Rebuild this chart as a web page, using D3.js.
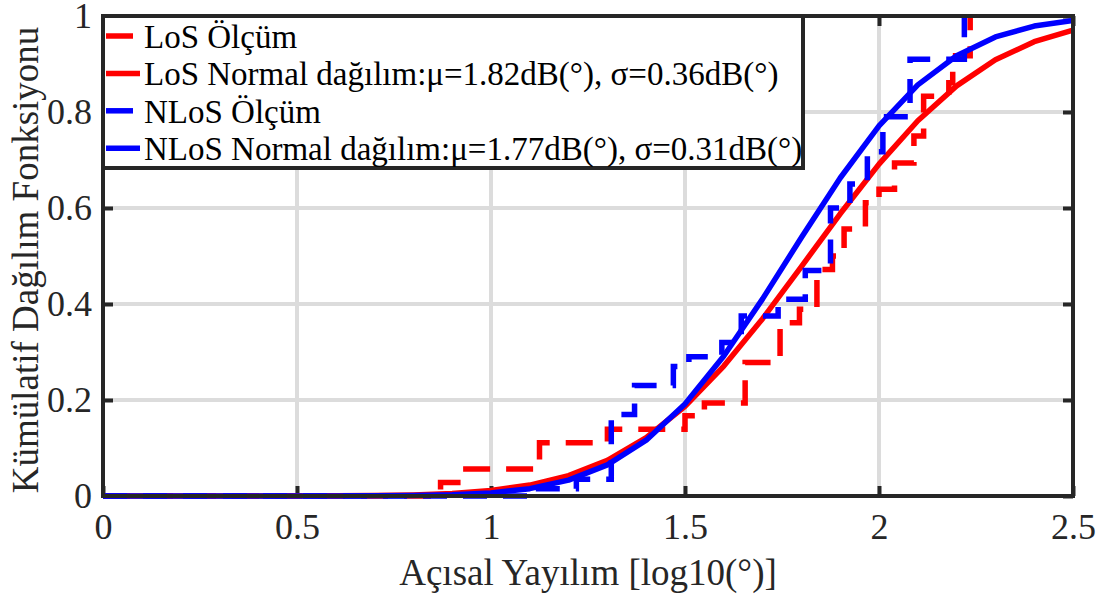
<!DOCTYPE html>
<html><head><meta charset="utf-8">
<script src="https://cdn.jsdelivr.net/npm/d3@7/dist/d3.min.js"></script>
<style>html,body{margin:0;padding:0;background:#fff;}svg{display:block;}
text{font-family:"Liberation Serif","Times New Roman",Times,"DejaVu Serif","Noto Serif",serif;}</style>
</head><body>
<svg id="chart" width="1106" height="599"></svg>
<script>
// ---- data ----
const xTicks = [0, 0.5, 1, 1.5, 2, 2.5];
const yTicks = [0, 0.2, 0.4, 0.6, 0.8, 1];
const xTickLabels = ["0", "0.5", "1", "1.5", "2", "2.5"];
const yTickLabels = ["0", "0.2", "0.4", "0.6", "0.8", "1"];

// fitted normal CDF curves
const fitX = [0, 0.25, 0.5, 0.6, 0.7, 0.8, 0.9, 1.0, 1.1, 1.2, 1.3, 1.4, 1.5, 1.6, 1.7, 1.8, 1.9, 2.0, 2.1, 2.2, 2.3, 2.4, 2.5];
const losFit = [0, 0, 0.0001, 0.0004, 0.0009, 0.0023, 0.0053, 0.0114, 0.0228, 0.0425, 0.0743, 0.1217, 0.187, 0.2706, 0.3694, 0.478, 0.588, 0.6915, 0.7817, 0.8544, 0.9088, 0.9464, 0.9706];
const nlosFit = [0, 0, 0, 0.0001, 0.0003, 0.0009, 0.0025, 0.0065, 0.0153, 0.033, 0.0648, 0.1163, 0.1919, 0.2918, 0.4107, 0.5385, 0.6625, 0.771, 0.8565, 0.9173, 0.9564, 0.979, 0.9907];

// measured empirical CDF steps (x where step occurs, level after step)
const losMeasX = [0, 0.87, 0.925, 1.125, 1.30, 1.50, 1.55, 1.655, 1.745, 1.795, 1.84, 1.88, 1.91, 1.965, 2.0, 2.04, 2.09, 2.115, 2.18, 2.19, 2.235];
const losMeasY = [0, 0.028, 0.056, 0.111, 0.139, 0.167, 0.194, 0.278, 0.361, 0.389, 0.472, 0.5, 0.556, 0.611, 0.639, 0.694, 0.75, 0.833, 0.861, 0.917, 1.0];
const nlosMeasX = [0, 1.10, 1.22, 1.31, 1.37, 1.47, 1.51, 1.595, 1.645, 1.74, 1.81, 1.875, 1.925, 1.97, 2.01, 2.08, 2.22];
const nlosMeasY = [0, 0.015, 0.035, 0.17, 0.23, 0.27, 0.29, 0.32, 0.375, 0.41, 0.47, 0.6, 0.65, 0.717, 0.79, 0.91, 1.0];

const legendLabels = ["LoS Ölçüm", "LoS Normal dağılım:μ=1.82dB(°), σ=0.36dB(°)", "NLoS Ölçüm", "NLoS Normal dağılım:μ=1.77dB(°), σ=0.31dB(°)"];
const xLabel = "Açısal Yayılım [log10(°)]";
const yLabel = "Kümülatif Dağılım Fonksiyonu";

// ---- layout ----
const L = 103, R = 1073, T = 16, B = 496;
const DARK = "#262626", GRID = "#dcdcdc";
const RED = "#ff0000", BLUE = "#0000ff";

const svg = d3.select("#chart");
const x = d3.scaleLinear().domain([0, 2.5]).range([L, R]);
const y = d3.scaleLinear().domain([0, 1]).range([B, T]);

// grid
const g = svg.append("g");
g.selectAll("line.gx").data(xTicks.slice(1, -1)).join("line")
  .attr("x1", d => x(d)).attr("x2", d => x(d)).attr("y1", T).attr("y2", B)
  .attr("stroke", GRID).attr("stroke-width", 4);
g.selectAll("line.gy").data(yTicks.slice(1, -1)).join("line")
  .attr("y1", d => y(d)).attr("y2", d => y(d)).attr("x1", L).attr("x2", R)
  .attr("stroke", GRID).attr("stroke-width", 4);

// axes
function styleAxis(sel) {
  sel.attr("font-family", null).attr("font-size", null);
  sel.select(".domain").remove();
  sel.selectAll(".tick line").attr("stroke", DARK).attr("stroke-width", 4);
  sel.selectAll(".tick text").attr("fill", "#262626").style("font-size", "36px");
}
svg.append("g").attr("transform", `translate(0,${B})`)
  .call(d3.axisBottom(x).tickValues(xTicks).tickFormat((d, i) => xTickLabels[i]).tickSize(-10).tickPadding(17))
  .call(styleAxis);
svg.append("g").attr("transform", `translate(0,${T})`)
  .call(d3.axisTop(x).tickValues(xTicks).tickFormat("").tickSize(-10))
  .call(styleAxis);
svg.append("g").attr("transform", `translate(${L},0)`)
  .call(d3.axisLeft(y).tickValues(yTicks).tickFormat((d, i) => yTickLabels[i]).tickSize(-10).tickPadding(11))
  .call(styleAxis);
svg.append("g").attr("transform", `translate(${R},0)`)
  .call(d3.axisRight(y).tickValues(yTicks).tickFormat("").tickSize(-10))
  .call(styleAxis);

// clip
svg.append("clipPath").attr("id", "clip").append("rect")
  .attr("x", L).attr("y", T - 3).attr("width", R - L).attr("height", B - T + 6);
const plot = svg.append("g").attr("clip-path", "url(#clip)");

const stepLine = d3.line().curve(d3.curveStepAfter).x(d => x(d[0])).y(d => y(d[1]));
const smoothLine = d3.line().x(d => x(d[0])).y(d => y(d[1]));

const losMeas = losMeasX.map((v, i) => [v, losMeasY[i]]);
const nlosMeas = nlosMeasX.map((v, i) => [v, nlosMeasY[i]]);
const losF = fitX.map((v, i) => [v, losFit[i]]);
const nlosF = fitX.map((v, i) => [v, nlosFit[i]]);

plot.append("path").attr("d", stepLine(losMeas)).attr("fill", "none").attr("stroke", RED)
  .attr("stroke-width", 5.5).attr("stroke-dasharray", "27,16");
plot.append("path").attr("d", smoothLine(losF)).attr("fill", "none").attr("stroke", RED)
  .attr("stroke-width", 5.5).attr("stroke-linejoin", "round");
plot.append("path").attr("d", stepLine(nlosMeas)).attr("fill", "none").attr("stroke", BLUE)
  .attr("stroke-width", 5.5).attr("stroke-dasharray", "24,16");
plot.append("path").attr("d", smoothLine(nlosF)).attr("fill", "none").attr("stroke", BLUE)
  .attr("stroke-width", 5.5).attr("stroke-linejoin", "round");

// frame
svg.append("rect").attr("x", L).attr("y", T).attr("width", R - L).attr("height", B - T)
  .attr("fill", "none").attr("stroke", DARK).attr("stroke-width", 4);

// legend
const leg = svg.append("g");
leg.append("rect").attr("x", L).attr("y", T).attr("width", 700).attr("height", 152)
  .attr("fill", "#fff").attr("stroke", DARK).attr("stroke-width", 4);
const legColors = [RED, RED, BLUE, BLUE];
const legDash = [true, false, true, false];
legendLabels.forEach((t, i) => {
  const by = 48 + i * 37.4;
  leg.append("line").attr("x1", 106).attr("x2", legDash[i] ? 133 : 140)
    .attr("y1", by - 12).attr("y2", by - 12)
    .attr("stroke", legColors[i]).attr("stroke-width", 5.5);
  leg.append("text").attr("x", 144).attr("y", by).text(t)
    .style("font-size", "33px").attr("fill", "#000");
});

// axis labels
svg.append("text").attr("x", (L + R) / 2).attr("y", 585).attr("text-anchor", "middle")
  .style("font-size", "37px").attr("fill", "#262626").text(xLabel);
svg.append("text").attr("transform", `translate(38,${(T + B) / 2 + 4}) rotate(-90)`).attr("text-anchor", "middle")
  .style("font-size", "37px").attr("fill", "#262626").text(yLabel);
</script>
</body></html>
